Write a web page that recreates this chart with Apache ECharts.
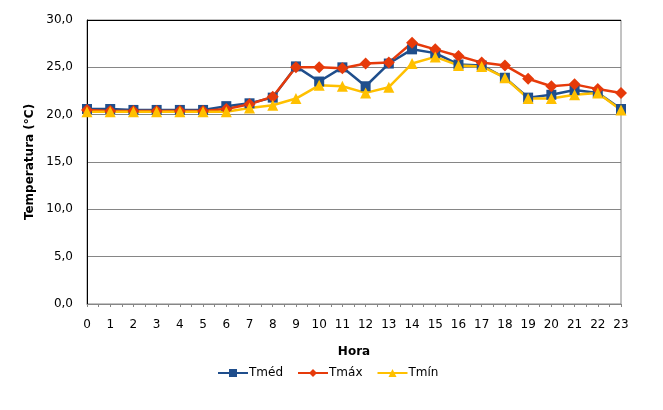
<!DOCTYPE html>
<html>
<head>
<meta charset="utf-8">
<script src="https://cdn.jsdelivr.net/npm/echarts@6/dist/echarts.min.js"></script>
<style>
html,body{margin:0;padding:0;background:#fff;}
#myChart1{width:663px;height:410px;}
</style>
</head>
<body>
<div id="myChart1"></div>
<script>
var hours = [0,1,2,3,4,5,6,7,8,9,10,11,12,13,14,15,16,17,18,19,20,21,22,23];
var tMed = [20.6,20.6,20.5,20.5,20.5,20.5,20.9,21.2,21.8,25.1,23.5,25.0,23.0,25.4,26.9,26.5,25.3,25.2,23.9,21.8,22.1,22.6,22.3,20.6];
var tMax = [20.5,20.4,20.4,20.4,20.4,20.4,20.6,21.1,21.9,25.0,25.0,24.9,25.4,25.5,27.6,26.9,26.2,25.5,25.2,23.8,23.0,23.2,22.7,22.3];
var tMin = [20.3,20.3,20.3,20.3,20.3,20.3,20.3,20.7,21.0,21.7,23.1,23.0,22.3,22.9,25.4,26.1,25.2,25.1,23.9,21.7,21.7,22.1,22.3,20.5];
var seriesNames = ['Tméd','Tmáx','Tmín'];

function pairs(vals){
    var out = [];
    for (var i = 0; i < hours.length; i++) { out.push([hours[i], vals[i]]); }
    return out;
}

var font = 'DejaVu Sans';
var option = {
    animation: false,
    textStyle: { fontFamily: font },
    grid: {
        left: 87, right: 42, top: 20, bottom: 106,
        show: true,
        borderColor: '#868686',
        borderWidth: 1
    },
    legend: {
        top: 362,
        left: 212,
        itemWidth: 30,
        itemHeight: 10,
        itemGap: 14,
        textStyle: { fontFamily: font, fontSize: 12, color: '#000', padding: [0, 0, 0, -4] },
        data: seriesNames
    },
    xAxis: {
        type: 'value',
        min: 0, max: 23, interval: 1,
        name: 'Hora',
        nameLocation: 'middle',
        nameGap: 42,
        nameTextStyle: { fontFamily: font, fontWeight: 'bold', fontSize: 12, color: '#000' },
        axisLine: { lineStyle: { color: '#868686' } },
        axisTick: { show: true, length: 3, lineStyle: { color: '#868686' } },
        minorTick: { show: true, splitNumber: 2, length: 3, lineStyle: { color: '#868686' } },
        axisLabel: { color: '#000', fontSize: 12, margin: 15 },
        splitLine: { show: false }
    },
    yAxis: {
        type: 'value',
        min: 0, max: 30, interval: 5,
        name: 'Temperatura (°C)',
        nameLocation: 'middle',
        nameGap: 48,
        nameTextStyle: { fontFamily: font, fontWeight: 'bold', fontSize: 12, color: '#000' },
        axisLine: { show: true, lineStyle: { color: '#000' } },
        axisTick: { show: false },
        axisLabel: {
            color: '#000', fontSize: 12, margin: 14,
            formatter: function(v){ return v.toFixed(1).replace('.', ','); }
        },
        splitLine: { show: true, lineStyle: { color: ['#868686','#868686','#868686','#868686','#868686','#868686','#000'] } }
    },
    series: [
        {
            name: seriesNames[0], type: 'line', symbol: 'rect', symbolSize: 10,
            itemStyle: { color: '#1F4E8C' }, lineStyle: { width: 2.5, color: '#1F4E8C' },
            data: pairs(tMed)
        },
        {
            name: seriesNames[1], type: 'line', symbol: 'diamond', symbolSize: 12,
            itemStyle: { color: '#E63A0A' }, lineStyle: { width: 2.5, color: '#E63A0A' },
            data: pairs(tMax)
        },
        {
            name: seriesNames[2], type: 'line', symbol: 'triangle', symbolSize: 11,
            itemStyle: { color: '#FFC000' }, lineStyle: { width: 2.5, color: '#FFC000' },
            data: pairs(tMin)
        }
    ]
};

var myChart1 = echarts.init(document.getElementById('myChart1'));
myChart1.setOption(option);
</script>
</body>
</html>
